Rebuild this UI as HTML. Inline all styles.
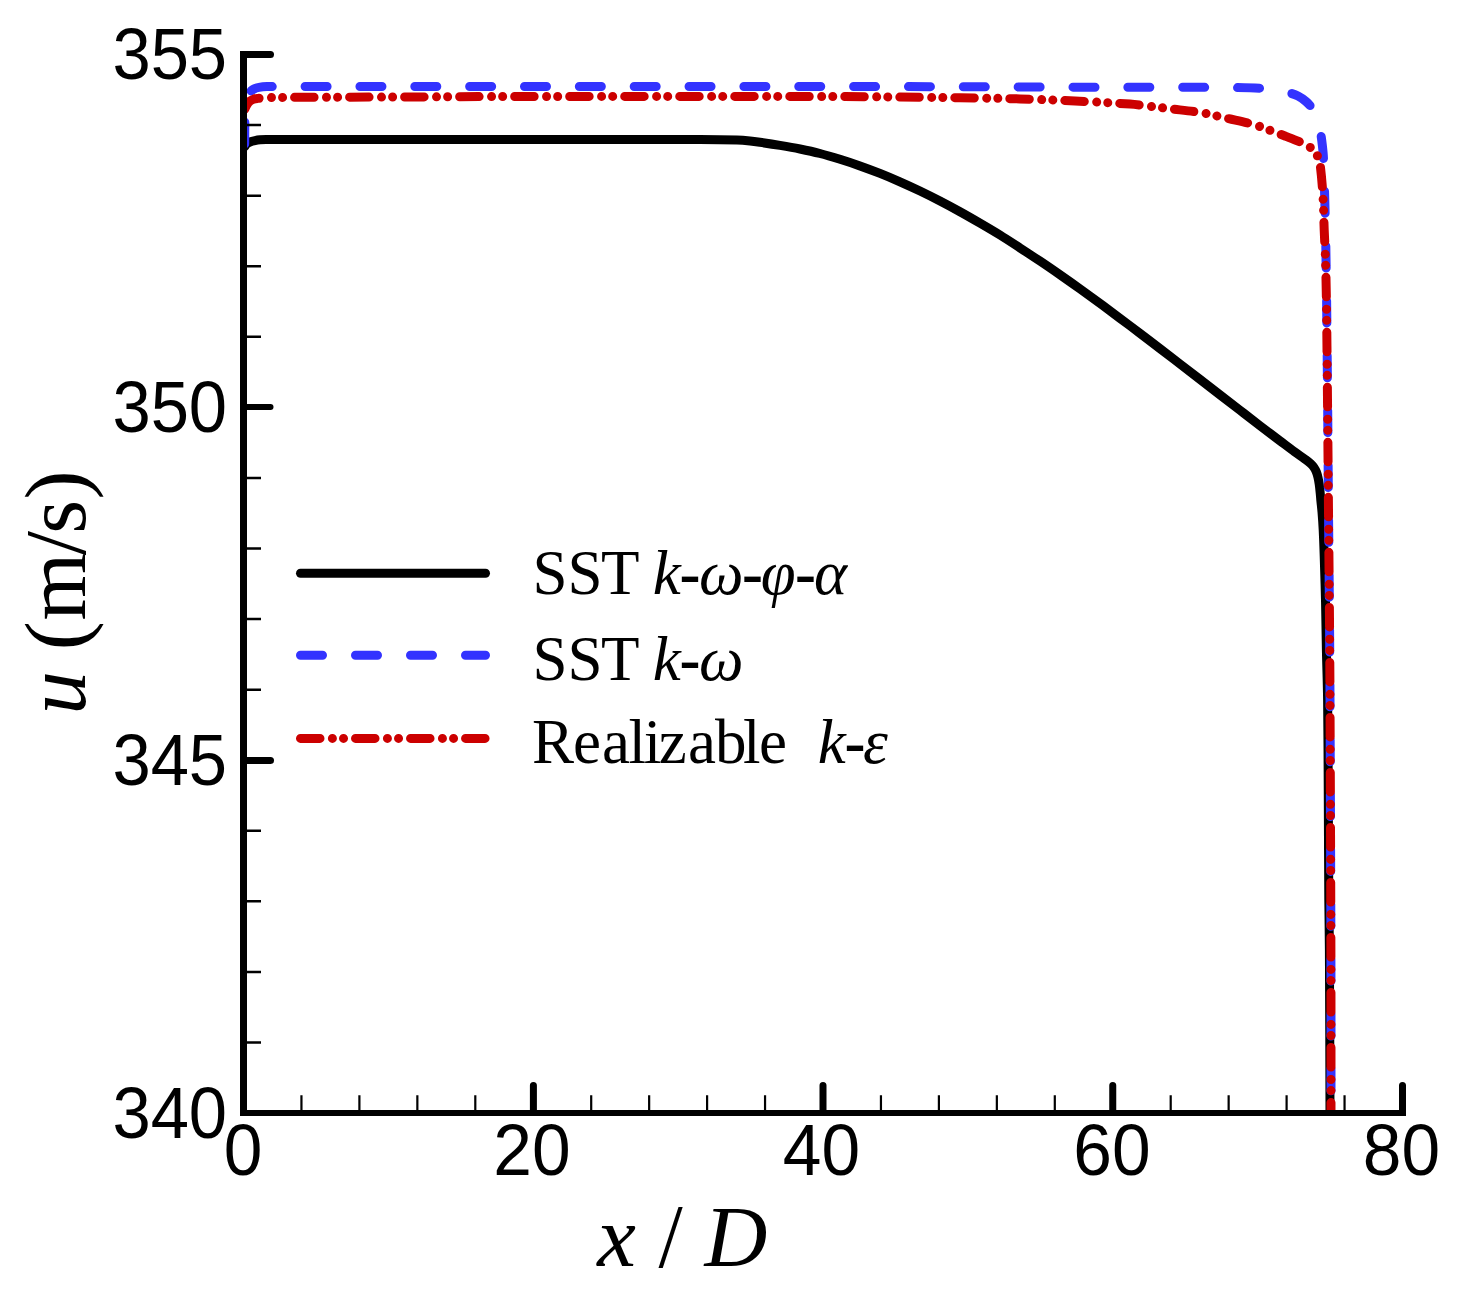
<!DOCTYPE html>
<html><head><meta charset="utf-8"><style>
html,body{margin:0;padding:0;background:#fff;}
svg{display:block;}
.s{font-family:"Liberation Sans",sans-serif;}
.r{font-family:"Liberation Serif",serif;}
</style></head><body>
<svg width="1463" height="1294" viewBox="0 0 1463 1294">
<rect x="0" y="0" width="1463" height="1294" fill="#fff"/>
<defs><clipPath id="cp"><rect x="243.5" y="0" width="1162" height="1113"/></clipPath></defs>
<g fill="none" stroke-linecap="round" stroke-linejoin="round" stroke-width="9" clip-path="url(#cp)">
<path stroke="#000" d="M244.80,146.50 C245.53,145.57 246.10,144.48 247.00,143.70 C247.87,142.95 248.93,142.42 250.00,142.00 C251.61,141.37 253.31,140.97 255.00,140.60 C256.65,140.24 258.32,139.97 260.00,139.80 C261.99,139.60 264.00,139.52 266.00,139.50 C277.33,139.42 288.67,139.50 300.00,139.50 C366.67,139.50 433.33,139.48 500.00,139.50 C566.67,139.52 633.33,139.43 700.00,139.60 C712.33,139.63 724.67,139.75 737.00,140.10 C741.34,140.22 745.68,140.59 750.00,141.00 C753.35,141.32 756.67,141.81 760.00,142.30 C766.67,143.28 773.35,144.29 780.00,145.40 C786.68,146.52 793.36,147.66 800.00,149.00 C806.70,150.36 813.38,151.80 820.00,153.50 C826.72,155.23 833.37,157.24 840.00,159.30 C846.71,161.38 853.38,163.57 860.00,165.90 C866.72,168.27 873.38,170.77 880.00,173.40 C886.72,176.07 893.38,178.89 900.00,181.80 C906.72,184.76 913.38,187.82 920.00,191.00 C926.72,194.23 933.38,197.57 940.00,201.00 C946.71,204.47 953.38,208.04 960.00,211.70 C966.72,215.41 973.37,219.24 980.00,223.10 C986.70,227.00 993.41,230.91 1000.00,235.00 C1006.74,239.18 1013.36,243.56 1020.00,247.90 C1026.69,252.26 1033.37,256.64 1040.00,261.10 C1046.71,265.61 1053.36,270.19 1060.00,274.80 C1066.70,279.46 1073.36,284.16 1080.00,288.90 C1086.70,293.69 1093.37,298.52 1100.00,303.40 C1106.70,308.32 1113.34,313.32 1120.00,318.30 C1126.67,323.29 1133.36,328.27 1140.00,333.30 C1146.69,338.37 1153.34,343.49 1160.00,348.60 C1166.67,353.72 1173.33,358.87 1180.00,364.00 C1186.67,369.13 1193.34,374.26 1200.00,379.40 C1206.67,384.56 1213.33,389.74 1220.00,394.90 C1226.66,400.04 1233.33,405.17 1240.00,410.30 C1246.67,415.43 1253.31,420.60 1260.00,425.70 C1266.64,430.77 1273.33,435.77 1280.00,440.80 C1284.90,444.50 1289.75,448.27 1294.70,451.90 C1298.15,454.43 1301.75,456.77 1305.20,459.30 C1307.02,460.63 1308.85,461.96 1310.50,463.50 C1311.80,464.71 1312.99,466.04 1314.00,467.50 C1314.97,468.90 1315.77,470.42 1316.40,472.00 C1317.11,473.77 1317.57,475.64 1318.00,477.50 C1318.50,479.65 1318.88,481.82 1319.20,484.00 C1319.58,486.66 1319.83,489.33 1320.10,492.00 C1320.37,494.66 1320.55,497.34 1320.80,500.00 C1321.18,504.00 1321.68,507.99 1322.00,512.00 C1322.48,517.99 1322.90,523.99 1323.20,530.00 C1323.63,538.66 1323.92,547.33 1324.20,556.00 C1324.68,570.67 1325.16,585.33 1325.50,600.00 C1325.89,616.66 1326.05,633.33 1326.40,650.00 C1326.75,666.67 1327.39,683.33 1327.60,700.00 C1328.02,733.33 1328.10,766.67 1328.30,800.00 C1328.50,833.33 1328.56,866.67 1328.80,900.00 C1328.92,916.67 1329.31,933.33 1329.40,950.00 C1329.71,1004.33 1329.80,1058.67 1330.00,1113.00"/>
<path stroke="#3333ff" stroke-dasharray="22 32.85" stroke-dashoffset="50.95" d="M244.70,148.00 C244.73,140.33 244.73,132.67 244.80,125.00 C244.86,118.00 244.65,110.99 245.10,104.00 C245.25,101.68 245.76,99.37 246.60,97.20 C247.25,95.51 248.32,93.97 249.50,92.60 C250.64,91.27 251.97,90.05 253.50,89.20 C255.19,88.25 257.10,87.67 259.00,87.30 C261.63,86.79 264.32,86.61 267.00,86.60 C378.00,86.34 489.00,86.50 600.00,86.50 C700.00,86.50 800.00,86.46 900.00,86.60 C966.67,86.69 1033.33,87.04 1100.00,87.20 C1133.33,87.28 1166.67,87.22 1200.00,87.30 C1210.00,87.32 1220.00,87.33 1230.00,87.50 C1240.00,87.67 1250.01,87.75 1260.00,88.30 C1265.02,88.58 1270.02,89.25 1275.00,90.00 C1279.36,90.65 1283.73,91.39 1288.00,92.50 C1291.42,93.39 1294.84,94.42 1298.00,96.00 C1300.89,97.45 1303.54,99.39 1306.00,101.50 C1308.24,103.42 1310.27,105.61 1312.00,108.00 C1313.79,110.48 1315.00,113.33 1316.50,116.00"/>
<path stroke="#3333ff" stroke-dasharray="22 32.85" stroke-dashoffset="33.74" d="M1316.50,116.00 C1317.43,119.00 1318.58,121.94 1319.30,125.00 C1320.08,128.29 1320.50,131.66 1321.00,135.00 C1321.50,138.32 1321.94,141.66 1322.30,145.00 C1322.74,148.99 1323.20,152.99 1323.40,157.00 C1323.94,167.99 1324.18,179.00 1324.50,190.00 C1324.88,203.33 1325.22,216.67 1325.50,230.00 C1325.78,243.33 1325.99,256.67 1326.20,270.00 C1326.36,280.00 1326.49,290.00 1326.60,300.00 C1326.96,333.33 1327.30,366.67 1327.60,400.00 C1327.90,433.33 1328.11,466.67 1328.40,500.00 C1328.75,540.00 1329.18,580.00 1329.50,620.00 C1329.71,646.67 1329.89,673.33 1330.00,700.00 C1330.35,783.33 1330.70,866.67 1330.90,950.00 C1331.03,1004.33 1330.97,1058.67 1331.00,1113.00"/>
<path stroke="#cc0000" stroke-dasharray="19.5 12.4 0.01 11.1 0.01 12" stroke-dashoffset="53.71" d="M244.20,110.50 C245.13,108.53 245.87,106.46 247.00,104.60 C247.81,103.27 248.80,102.00 250.00,101.00 C251.01,100.16 252.25,99.61 253.50,99.20 C254.95,98.73 256.49,98.59 258.00,98.40 C259.66,98.19 261.33,98.11 263.00,98.00 C266.00,97.81 269.00,97.52 272.00,97.50 C314.67,97.19 357.33,97.17 400.00,97.00 C440.00,96.84 480.00,96.55 520.00,96.50 C626.67,96.38 733.33,96.33 840.00,96.50 C860.00,96.53 880.00,96.90 900.00,97.10 C920.00,97.30 940.00,97.40 960.00,97.70 C980.00,98.00 1000.00,98.33 1020.00,98.90 C1038.34,99.43 1056.67,100.13 1075.00,101.00 C1093.34,101.87 1111.69,102.77 1130.00,104.10 C1137.36,104.64 1144.67,105.75 1152.00,106.60 C1159.34,107.45 1166.67,108.33 1174.00,109.20 C1180.67,109.99 1187.34,110.71 1194.00,111.60 C1197.85,112.11 1201.69,112.67 1205.50,113.40 C1209.53,114.17 1213.50,115.19 1217.50,116.10 C1221.24,116.95 1224.96,117.84 1228.70,118.70 C1234.86,120.11 1241.07,121.37 1247.20,122.90 C1251.47,123.97 1255.72,125.13 1259.90,126.50 C1263.46,127.67 1266.90,129.17 1270.40,130.50 C1275.26,132.34 1280.14,134.14 1285.00,136.00 C1288.68,137.41 1292.36,138.81 1296.00,140.30 C1299.03,141.54 1302.08,142.73 1305.00,144.20 C1306.93,145.17 1308.78,146.30 1310.50,147.60 C1312.13,148.84 1313.70,150.21 1315.00,151.80 C1316.10,153.14 1316.92,154.71 1317.60,156.30 C1318.36,158.06 1318.73,159.97 1319.30,161.80"/>
<path stroke="#cc0000" stroke-dasharray="19.5 12.4 0.01 11.1 0.01 12" stroke-dashoffset="49.28" d="M1319.30,161.80 C1319.70,163.70 1320.27,165.57 1320.50,167.50 C1321.30,174.15 1321.88,180.82 1322.40,187.50 C1322.85,193.33 1323.15,199.16 1323.40,205.00 C1323.75,213.33 1323.88,221.67 1324.20,230.00 C1324.58,240.00 1325.19,250.00 1325.50,260.00 C1325.92,273.33 1326.21,286.66 1326.40,300.00 C1326.88,333.33 1327.17,366.67 1327.50,400.00 C1327.83,433.33 1328.10,466.67 1328.40,500.00 C1328.76,540.00 1329.18,580.00 1329.50,620.00 C1329.71,646.67 1329.89,673.33 1330.00,700.00 C1330.35,783.33 1330.70,866.67 1330.90,950.00 C1331.03,1004.33 1330.97,1058.67 1331.00,1113.00"/>
</g>
<g fill="#000">
<rect x="240" y="51" width="7" height="1065"/>
<rect x="240" y="1110" width="1166" height="6"/>
</g>
<g stroke="#000" stroke-linecap="round" fill="none">
<path stroke-width="7" d="M244,54.5 H270.5"/>
<path stroke-width="6" d="M244,407 H270.5"/>
<path stroke-width="7" d="M244,760.5 H270.5"/>
<path stroke-width="7" d="M533.4,1112 V1085.5 M823,1112 V1085.5 M1112.75,1112 V1085.5 M1402.5,1112 V1085.5"/>
</g>
<g stroke="#000" fill="none">
<path stroke-width="2.5" d="M247,125.07 H261 M247,195.64 H261 M247,266.21 H261 M247,336.78 H261 M247,477.92 H261 M247,548.49 H261 M247,619.06 H261 M247,689.63 H261 M247,830.77 H261 M247,901.34 H261 M247,971.91 H261 M247,1042.48 H261"/>
<path stroke-width="2.2" d="M301.45,1110 V1095.2 M359.40,1110 V1095.2 M417.35,1110 V1095.2 M475.30,1110 V1095.2 M591.20,1110 V1095.2 M649.15,1110 V1095.2 M707.10,1110 V1095.2 M765.05,1110 V1095.2 M880.95,1110 V1095.2 M938.90,1110 V1095.2 M996.85,1110 V1095.2 M1054.80,1110 V1095.2 M1170.70,1110 V1095.2 M1228.65,1110 V1095.2 M1286.60,1110 V1095.2 M1344.55,1110 V1095.2"/>
</g>
<g class="s" font-size="72" fill="#000" text-anchor="end">
<text transform="translate(227.1,79) scale(0.955,1)">355</text>
<text transform="translate(227.1,432) scale(0.955,1)">350</text>
<text transform="translate(227.1,784.8) scale(0.955,1)">345</text>
<text transform="translate(227.1,1138) scale(0.955,1)">340</text>
</g>
<g class="s" font-size="72" fill="#000" text-anchor="middle">
<text transform="translate(243,1175) scale(0.965,1)">0</text>
<text transform="translate(531.9,1175) scale(0.965,1)">20</text>
<text transform="translate(821.5,1175) scale(0.965,1)">40</text>
<text transform="translate(1111.9,1175) scale(0.965,1)">60</text>
<text transform="translate(1401.5,1175) scale(0.965,1)">80</text>
</g>
<g class="r" font-size="87" fill="#000">
<text x="597.2" y="1265.8" font-style="italic">x</text>
<text transform="translate(658.5,1266.6) scale(1,1.05)">/</text>
<text x="704.5" y="1265.5" font-style="italic">D</text>
<text transform="translate(85,712) rotate(-90)"><tspan x="-2.4" font-style="italic">u</tspan><tspan x="61.8">(</tspan><tspan x="91.4">m</tspan><tspan x="156.8">/</tspan><tspan x="178.2">s</tspan><tspan x="212.6">)</tspan></text>
</g>
<g fill="none" stroke-width="9" stroke-linecap="round">
<path stroke="#000" d="M300.5,573.2 H485.5"/>
<path stroke="#3333ff" stroke-dasharray="22 33" d="M300.5,655.3 H485.5"/>
<path stroke="#cc0000" stroke-dasharray="19.5 12.4 0.01 11.1 0.01 12" d="M300.5,738.4 H485.5"/>
</g>
<g class="r" font-size="63" fill="#000">
<text y="593.6"><tspan x="532.5">S</tspan><tspan x="567.4">S</tspan><tspan x="601.0">T</tspan><tspan x="652.7" font-style="italic">k</tspan><tspan x="679.6" font-weight="bold">-</tspan><tspan x="699.1" font-style="italic">ω</tspan><tspan x="742.1" font-weight="bold">-</tspan><tspan x="760.8" font-style="italic">φ</tspan><tspan x="794.9" font-weight="bold">-</tspan><tspan x="814.0" font-style="italic">α</tspan></text>
<text y="679.6"><tspan x="532.5">S</tspan><tspan x="567.4">S</tspan><tspan x="601.0">T</tspan><tspan x="652.7" font-style="italic">k</tspan><tspan x="679.6" font-weight="bold">-</tspan><tspan x="699.1" font-style="italic">ω</tspan></text>
<text y="763.2"><tspan x="531.9">R</tspan><tspan x="573.0">e</tspan><tspan x="602.0">a</tspan><tspan x="628.5">l</tspan><tspan x="643.8">i</tspan><tspan x="658.8">z</tspan><tspan x="688.1">a</tspan><tspan x="715.0">b</tspan><tspan x="742.9">l</tspan><tspan x="758.9">e</tspan><tspan x="817.7" font-style="italic">k</tspan><tspan x="844.6" font-weight="bold">-</tspan><tspan x="863.0" font-style="italic">ε</tspan></text>
</g>
</svg>
</body></html>
